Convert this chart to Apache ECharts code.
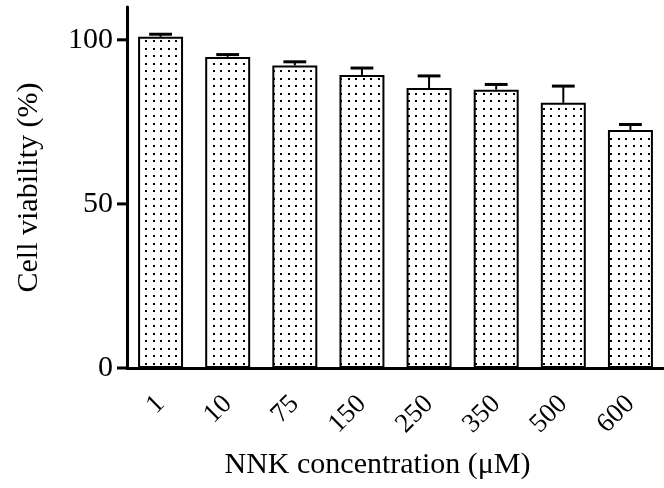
<!DOCTYPE html>
<html>
<head>
<meta charset="utf-8">
<script src="https://cdn.jsdelivr.net/npm/echarts@6/dist/echarts.min.js"></script>
<style>
  html, body { margin: 0; padding: 0; background: #fff; }
  #chart { width: 664px; height: 488px; }
</style>
</head>
<body>
<div id="chart"></div>
<script>
// NNK concentrations (uM)
const categories = ['1', '10', '75', '150', '250', '350', '500', '600']
// mean cell viability (%)
const viability = [100.9, 94.8, 92.2, 89.3, 85.3, 84.8, 80.8, 72.5]
// upper error (SD)
const errors = [0.8, 0.7, 1.1, 2.1, 3.7, 1.6, 5.1, 1.7]
const yTicks = [0, 50, 100]

const font = '"Liberation Serif", "Times New Roman", serif'

// dotted fill like the original figure
const makeDots = () => {
  const c = document.createElement('canvas')
  c.width = 15
  c.height = 15
  const ctx = c.getContext('2d')
  ctx.fillStyle = '#fff'
  ctx.fillRect(0, 0, 15, 15)
  ctx.fillStyle = '#000'
  ;[3, 10].forEach(x => {
    [3, 10].forEach(y => ctx.fillRect(x, y, 2, 2))
  })
  return c
}

const errData = categories.map((c, i) => [i, viability[i], viability[i] + errors[i]])

const chart = echarts.init(document.getElementById('chart'), null, { renderer: 'canvas' })

const option = {
  animation: false,
  grid: { left: 127, top: 7, width: 542, bottom: 120 },
  xAxis: {
    type: 'category',
    data: categories,
    name: 'NNK concentration (\u03bcM)',
    nameLocation: 'middle',
    nameGap: 82,
    nameTextStyle: { fontFamily: font, fontSize: 30, color: '#000', padding: [0, 36, 0, 0] },
    axisLine: { lineStyle: { color: '#000', width: 3 } },
    axisTick: { alignWithLabel: true, length: 10, lineStyle: { color: '#000', width: 3 } },
    axisLabel: { rotate: 45, margin: 32, fontFamily: font, fontSize: 27, color: '#000' }
  },
  yAxis: {
    type: 'value',
    min: 0,
    max: 110,
    interval: 50,
    name: 'Cell viability (%)',
    nameLocation: 'middle',
    nameGap: 83,
    nameTextStyle: { fontFamily: font, fontSize: 30, color: '#000' },
    axisLine: { show: true, lineStyle: { color: '#000', width: 3 } },
    axisTick: { show: false }, // drawn by the tick series below (no tick at the axis end)
    axisLabel: {
      margin: 14, fontFamily: font, fontSize: 30, color: '#000',
      customValues: yTicks
    },
    splitLine: { show: false }
  },
  series: [{
    type: 'bar',
    data: viability,
    barWidth: '67%',
    itemStyle: {
      color: { image: makeDots(), repeat: 'repeat' },
      borderColor: '#000',
      borderWidth: 2
    }
  }, {
    type: 'custom',
    data: errData,
    z: 3,
    renderItem: (params, api) => {
      const i = api.value(0)
      const base = api.coord([i, api.value(1)])
      const top = api.coord([i, api.value(2)])
      const half = api.size([1, 0])[0] * 0.17
      return {
        type: 'group',
        children: [{
          type: 'line',
          shape: { x1: base[0], y1: base[1], x2: top[0], y2: top[1] },
          style: { stroke: '#000', lineWidth: 2 }
        }, {
          type: 'line',
          shape: { x1: top[0] - half, y1: top[1], x2: top[0] + half, y2: top[1] },
          style: { stroke: '#000', lineWidth: 3 }
        }]
      }
    }
  }, {
    // y axis tick marks at 0, 50, 100
    type: 'custom',
    data: yTicks.map(v => [0, v]),
    clip: false,
    silent: true,
    z: 4,
    renderItem: (params, api) => {
      const p = api.coord([0, api.value(1)])
      const x = p[0] - api.size([1, 0])[0] / 2
      return {
        type: 'line',
        shape: { x1: x - 10, y1: p[1], x2: x, y2: p[1] },
        style: { stroke: '#000', lineWidth: 3 }
      }
    }
  }]
}

chart.setOption(option)
</script>
</body>
</html>
